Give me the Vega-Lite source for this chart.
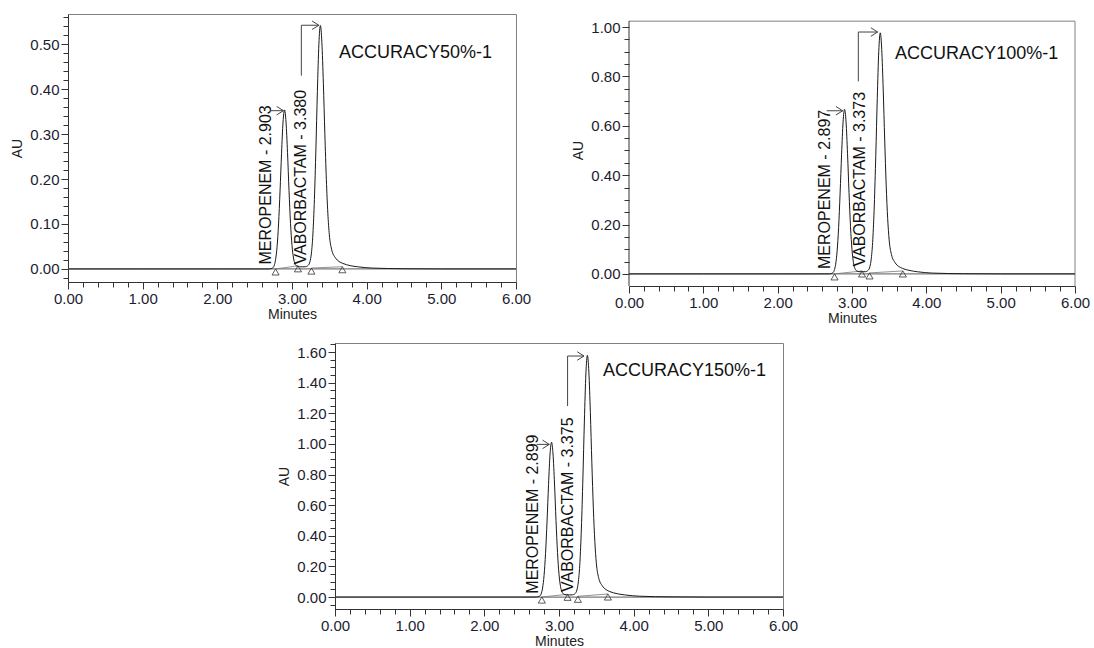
{
  "$schema": "https://vega.github.io/schema/vega-lite/v6.json",
  "padding": {"left": 10, "top": 9, "right": 0, "bottom": 0},
  "background": "white",
  "config": {
    "font": "Liberation Sans",
    "view": {"stroke": "#808080", "strokeWidth": 1},
    "axis": {
      "labelFontSize": 15, "titleFontSize": 14, "titleFontWeight": "normal",
      "labelColor": "#1c1c30", "titleColor": "#222", "domainColor": "#333", "tickColor": "#333",
      "labelFont": "Liberation Sans", "titleFont": "Liberation Sans", "grid": false,
      "labelFlush": false, "labelOverlap": false, "labelPadding": 2, "tickWidth": 1, "domainWidth": 1
    },
    "axisY": {"titlePadding": 5},
    "axisX": {"titlePadding": 1}
  },
  "datasets": {
    "p1": [
      {"k":"zero","t":0,"au":0},{"k":"zero","t":6,"au":0},
      {"k":"trace","t":0,"au":0},{"k":"trace","t":1,"au":0},{"k":"trace","t":2,"au":0},{"k":"trace","t":2.5,"au":0},
      {"k":"trace","t":2.7,"au":0.0001},{"k":"trace","t":2.74,"au":0.0021},{"k":"trace","t":2.76,"au":0.0069},{"k":"trace","t":2.78,"au":0.0207},
      {"k":"trace","t":2.8,"au":0.0494},{"k":"trace","t":2.82,"au":0.1},{"k":"trace","t":2.84,"au":0.1737},{"k":"trace","t":2.86,"au":0.2573},
      {"k":"trace","t":2.88,"au":0.3268},{"k":"trace","t":2.9,"au":0.3537},{"k":"trace","t":2.92,"au":0.3268},{"k":"trace","t":2.94,"au":0.2584},
      {"k":"trace","t":2.96,"au":0.1748},{"k":"trace","t":2.98,"au":0.1016},{"k":"trace","t":3.0,"au":0.0521},{"k":"trace","t":3.02,"au":0.0244},
      {"k":"trace","t":3.04,"au":0.0117},{"k":"trace","t":3.06,"au":0.0069},{"k":"trace","t":3.1,"au":0.0049},{"k":"trace","t":3.14,"au":0.0048},
      {"k":"trace","t":3.18,"au":0.005},{"k":"trace","t":3.22,"au":0.0086},{"k":"trace","t":3.24,"au":0.016},{"k":"trace","t":3.26,"au":0.0354},
      {"k":"trace","t":3.28,"au":0.0776},{"k":"trace","t":3.3,"au":0.1546},{"k":"trace","t":3.32,"au":0.2664},{"k":"trace","t":3.34,"au":0.3943},
      {"k":"trace","t":3.36,"au":0.4997},{"k":"trace","t":3.38,"au":0.5414},{"k":"trace","t":3.4,"au":0.504},{"k":"trace","t":3.42,"au":0.413},
      {"k":"trace","t":3.44,"au":0.3007},{"k":"trace","t":3.46,"au":0.199},{"k":"trace","t":3.48,"au":0.1241},{"k":"trace","t":3.5,"au":0.076},
      {"k":"trace","t":3.53,"au":0.0439},{"k":"trace","t":3.58,"au":0.0251},{"k":"trace","t":3.63,"au":0.0166},{"k":"trace","t":3.68,"au":0.0124},
      {"k":"trace","t":3.78,"au":0.0074},{"k":"trace","t":3.88,"au":0.0048},{"k":"trace","t":4.08,"au":0.0019},{"k":"trace","t":4.5,"au":0.0005},
      {"k":"trace","t":5,"au":0},{"k":"trace","t":6,"au":0},
      {"k":"base","g":"a","t":2.78,"au":0},{"k":"base","g":"a","t":3.08,"au":0.007},
      {"k":"base","g":"b","t":3.26,"au":0.002},{"k":"base","g":"b","t":3.675,"au":0.005},
      {"k":"tri","t":2.78,"au":0},{"k":"tri","t":3.08,"au":0.007},{"k":"tri","t":3.26,"au":0.002},{"k":"tri","t":3.675,"au":0.005},
      {"k":"lead","g":"m","o":1,"t":2.72,"au":0.352},{"k":"lead","g":"m","o":2,"t":2.885,"au":0.352},
      {"k":"lead","g":"v","o":1,"t":3.125,"au":0.43},{"k":"lead","g":"v","o":2,"t":3.125,"au":0.542},{"k":"lead","g":"v","o":3,"t":3.36,"au":0.542},
      {"k":"head","t":2.885,"au":0.352},{"k":"head","t":3.36,"au":0.542},
      {"k":"rot","t":2.65,"au":0.01,"label":"MEROPENEM - 2.903"},
      {"k":"rot","t":3.125,"au":0.01,"label":"VABORBACTAM - 3.380"},
      {"k":"name","t":3.63,"au":0.48,"label":"ACCURACY50%-1"}
    ],
    "p2": [
      {"k":"zero","t":0,"au":0},{"k":"zero","t":6,"au":0},
      {"k":"trace","t":0,"au":0},{"k":"trace","t":1,"au":0},{"k":"trace","t":2,"au":0},{"k":"trace","t":2.5,"au":0},
      {"k":"trace","t":2.7,"au":0.0002},{"k":"trace","t":2.74,"au":0.004},{"k":"trace","t":2.76,"au":0.0131},{"k":"trace","t":2.78,"au":0.0389},
      {"k":"trace","t":2.8,"au":0.093},{"k":"trace","t":2.82,"au":0.1883},{"k":"trace","t":2.84,"au":0.3272},{"k":"trace","t":2.86,"au":0.485},
      {"k":"trace","t":2.88,"au":0.616},{"k":"trace","t":2.9,"au":0.6668},{"k":"trace","t":2.92,"au":0.616},{"k":"trace","t":2.94,"au":0.4869},
      {"k":"trace","t":2.96,"au":0.3291},{"k":"trace","t":2.98,"au":0.1912},{"k":"trace","t":3.0,"au":0.0978},{"k":"trace","t":3.02,"au":0.0457},
      {"k":"trace","t":3.04,"au":0.0218},{"k":"trace","t":3.06,"au":0.0127},{"k":"trace","t":3.1,"au":0.0089},{"k":"trace","t":3.14,"au":0.0087},
      {"k":"trace","t":3.18,"au":0.009},{"k":"trace","t":3.22,"au":0.0155},{"k":"trace","t":3.24,"au":0.0288},{"k":"trace","t":3.26,"au":0.0637},
      {"k":"trace","t":3.28,"au":0.14},{"k":"trace","t":3.3,"au":0.2789},{"k":"trace","t":3.32,"au":0.4806},{"k":"trace","t":3.34,"au":0.7112},
      {"k":"trace","t":3.36,"au":0.9013},{"k":"trace","t":3.38,"au":0.9766},{"k":"trace","t":3.4,"au":0.9091},{"k":"trace","t":3.42,"au":0.745},
      {"k":"trace","t":3.44,"au":0.5424},{"k":"trace","t":3.46,"au":0.359},{"k":"trace","t":3.48,"au":0.2239},{"k":"trace","t":3.5,"au":0.1371},
      {"k":"trace","t":3.53,"au":0.0792},{"k":"trace","t":3.58,"au":0.0454},{"k":"trace","t":3.63,"au":0.0299},{"k":"trace","t":3.68,"au":0.0222},
      {"k":"trace","t":3.78,"au":0.0136},{"k":"trace","t":3.88,"au":0.0087},{"k":"trace","t":4.08,"au":0.0033},{"k":"trace","t":4.5,"au":0.0008},
      {"k":"trace","t":5,"au":0},{"k":"trace","t":6,"au":0},
      {"k":"base","g":"a","t":2.765,"au":0},{"k":"base","g":"a","t":3.135,"au":0.012},
      {"k":"base","g":"b","t":3.236,"au":0.004},{"k":"base","g":"b","t":3.684,"au":0.012},
      {"k":"tri","t":2.765,"au":0},{"k":"tri","t":3.135,"au":0.012},{"k":"tri","t":3.236,"au":0.004},{"k":"tri","t":3.684,"au":0.012},
      {"k":"lead","g":"m","o":1,"t":2.66,"au":0.661},{"k":"lead","g":"m","o":2,"t":2.875,"au":0.661},
      {"k":"lead","g":"v","o":1,"t":3.085,"au":0.78},{"k":"lead","g":"v","o":2,"t":3.085,"au":0.98},{"k":"lead","g":"v","o":3,"t":3.345,"au":0.98},
      {"k":"head","t":2.875,"au":0.661},{"k":"head","t":3.345,"au":0.98},
      {"k":"rot","t":2.64,"au":0.02,"label":"MEROPENEM - 2.897"},
      {"k":"rot","t":3.11,"au":0.03,"label":"VABORBACTAM - 3.373"},
      {"k":"name","t":3.58,"au":0.89,"label":"ACCURACY100%-1"}
    ],
    "p3": [
      {"k":"zero","t":0,"au":0},{"k":"zero","t":6,"au":0},
      {"k":"trace","t":0,"au":0},{"k":"trace","t":1,"au":0},{"k":"trace","t":2,"au":0},{"k":"trace","t":2.5,"au":0},
      {"k":"trace","t":2.7,"au":0.0003},{"k":"trace","t":2.74,"au":0.006},{"k":"trace","t":2.76,"au":0.0198},{"k":"trace","t":2.78,"au":0.0591},
      {"k":"trace","t":2.8,"au":0.1412},{"k":"trace","t":2.82,"au":0.2858},{"k":"trace","t":2.84,"au":0.4964},{"k":"trace","t":2.86,"au":0.7354},
      {"k":"trace","t":2.88,"au":0.9339},{"k":"trace","t":2.9,"au":1.0109},{"k":"trace","t":2.92,"au":0.9339},{"k":"trace","t":2.94,"au":0.7385},
      {"k":"trace","t":2.96,"au":0.4995},{"k":"trace","t":2.98,"au":0.2905},{"k":"trace","t":3.0,"au":0.149},{"k":"trace","t":3.02,"au":0.07},
      {"k":"trace","t":3.04,"au":0.0338},{"k":"trace","t":3.06,"au":0.02},{"k":"trace","t":3.1,"au":0.0143},{"k":"trace","t":3.14,"au":0.014},
      {"k":"trace","t":3.18,"au":0.0145},{"k":"trace","t":3.22,"au":0.025},{"k":"trace","t":3.24,"au":0.0465},{"k":"trace","t":3.26,"au":0.103},
      {"k":"trace","t":3.28,"au":0.2262},{"k":"trace","t":3.3,"au":0.4509},{"k":"trace","t":3.32,"au":0.7769},{"k":"trace","t":3.34,"au":1.1498},
      {"k":"trace","t":3.36,"au":1.4571},{"k":"trace","t":3.38,"au":1.5787},{"k":"trace","t":3.4,"au":1.4695},{"k":"trace","t":3.42,"au":1.2043},
      {"k":"trace","t":3.44,"au":0.8767},{"k":"trace","t":3.46,"au":0.5803},{"k":"trace","t":3.48,"au":0.3619},{"k":"trace","t":3.5,"au":0.2215},
      {"k":"trace","t":3.53,"au":0.1279},{"k":"trace","t":3.58,"au":0.0733},{"k":"trace","t":3.63,"au":0.0484},{"k":"trace","t":3.68,"au":0.0359},
      {"k":"trace","t":3.78,"au":0.0218},{"k":"trace","t":3.88,"au":0.014},{"k":"trace","t":4.08,"au":0.0054},{"k":"trace","t":4.5,"au":0.0013},
      {"k":"trace","t":5,"au":0},{"k":"trace","t":6,"au":0},
      {"k":"base","g":"a","t":2.77,"au":0},{"k":"base","g":"a","t":3.115,"au":0.018},
      {"k":"base","g":"b","t":3.253,"au":0.005},{"k":"base","g":"b","t":3.655,"au":0.02},
      {"k":"tri","t":2.77,"au":0},{"k":"tri","t":3.115,"au":0.018},{"k":"tri","t":3.253,"au":0.005},{"k":"tri","t":3.655,"au":0.02},
      {"k":"lead","g":"m","o":1,"t":2.7,"au":0.997},{"k":"lead","g":"m","o":2,"t":2.87,"au":0.997},
      {"k":"lead","g":"v","o":1,"t":3.115,"au":1.247},{"k":"lead","g":"v","o":2,"t":3.115,"au":1.574},{"k":"lead","g":"v","o":3,"t":3.335,"au":1.574},
      {"k":"head","t":2.87,"au":0.997},{"k":"head","t":3.335,"au":1.574},
      {"k":"rot","t":2.65,"au":0.022,"label":"MEROPENEM - 2.899"},
      {"k":"rot","t":3.115,"au":0.033,"label":"VABORBACTAM - 3.375"},
      {"k":"name","t":3.59,"au":1.474,"label":"ACCURACY150%-1"}
    ]
  },
  "spacing": 11,
  "vconcat": [
    {
      "spacing": 39,
      "hconcat": [
        {
          "width": 448, "height": 268,
          "data": {"name": "p1"},
          "encoding": {
            "x": {"field": "t", "type": "quantitative", "scale": {"domain": [0, 6], "nice": false, "zero": false},
              "axis": {"title": "Minutes", "values": [0,0.2,0.4,0.6,0.8,1,1.2,1.4,1.6,1.8,2,2.2,2.4,2.6,2.8,3,3.2,3.4,3.6,3.8,4,4.2,4.4,4.6,4.8,5,5.2,5.4,5.6,5.8,6],
                "labelExpr": "round(datum.value*10) % 10 === 0 ? format(datum.value, '.2f') : ''",
                "tickSize": {"condition": {"test": "round(datum.value*10) % 10 === 0", "value": 7}, "value": 5}}},
            "y": {"field": "au", "type": "quantitative", "scale": {"domain": [-0.029, 0.567], "nice": false, "zero": false},
              "axis": {"title": "AU", "values": [-0.02,0,0.02,0.04,0.06,0.08,0.1,0.12,0.14,0.16,0.18,0.2,0.22,0.24,0.26,0.28,0.3,0.32,0.34,0.36,0.38,0.4,0.42,0.44,0.46,0.48,0.5,0.52,0.54,0.56],
                "labelExpr": "round(datum.value*100) % 10 === 0 ? format(datum.value, '.2f') : ''",
                "tickSize": {"condition": {"test": "round(datum.value*100) % 10 === 0", "value": 7}, "value": 5}}}
          },
          "layer": [
            {"transform": [{"filter": "datum.k === 'zero'"}], "mark": {"type": "line", "color": "#7a7a7a", "strokeWidth": 1.3}},
            {"transform": [{"filter": "datum.k === 'base'"}], "mark": {"type": "line", "color": "#777", "strokeWidth": 0.8}, "encoding": {"detail": {"field": "g", "type": "nominal"}}},
            {"transform": [{"filter": "datum.k === 'trace'"}], "mark": {"type": "line", "color": "#1a1a1a", "strokeWidth": 1, "interpolate": "monotone"}},
            {"transform": [{"filter": "datum.k === 'tri'"}], "mark": {"type": "point", "shape": "triangle-up", "filled": false, "size": 50, "color": "#333", "strokeWidth": 0.8, "yOffset": 3, "opacity": 1}},
            {"transform": [{"filter": "datum.k === 'lead'"}], "mark": {"type": "line", "color": "#444", "strokeWidth": 1}, "encoding": {"detail": {"field": "g", "type": "nominal"}, "order": {"field": "o", "type": "quantitative"}}},
            {"transform": [{"filter": "datum.k === 'head'"}], "mark": {"type": "point", "shape": "M-1.6,-1L0,0L-1.6,1", "filled": false, "size": 72, "color": "#444", "strokeWidth": 1, "opacity": 1}},
            {"transform": [{"filter": "datum.k === 'rot'"}], "mark": {"type": "text", "angle": 270, "align": "left", "baseline": "middle", "fontSize": 16, "color": "#111"}, "encoding": {"text": {"field": "label"}}},
            {"transform": [{"filter": "datum.k === 'name'"}], "mark": {"type": "text", "align": "left", "baseline": "middle", "fontSize": 18, "color": "#111"}, "encoding": {"text": {"field": "label"}}}
          ]
        },
        {
          "width": 446, "height": 272,
          "view": {"stroke": null},
          "data": {"name": "p2"},
          "encoding": {
            "x": {"field": "t", "type": "quantitative", "scale": {"domain": [0, 6], "nice": false, "zero": false},
              "axis": {"title": "Minutes", "values": [0,0.2,0.4,0.6,0.8,1,1.2,1.4,1.6,1.8,2,2.2,2.4,2.6,2.8,3,3.2,3.4,3.6,3.8,4,4.2,4.4,4.6,4.8,5,5.2,5.4,5.6,5.8,6],
                "labelExpr": "round(datum.value*10) % 10 === 0 ? format(datum.value, '.2f') : ''",
                "tickSize": {"condition": {"test": "round(datum.value*10) % 10 === 0", "value": 7}, "value": 5}}},
            "y": {"field": "au", "type": "quantitative", "scale": {"domain": [-0.049, 1.053], "nice": false, "zero": false},
              "axis": {"title": "AU", "domain": false, "values": [0,0.05,0.1,0.15,0.2,0.25,0.3,0.35,0.4,0.45,0.5,0.55,0.6,0.65,0.7,0.75,0.8,0.85,0.9,0.95,1],
                "labelExpr": "round(datum.value*100) % 20 === 0 ? format(datum.value, '.2f') : ''",
                "tickSize": {"condition": {"test": "round(datum.value*100) % 20 === 0", "value": 7}, "value": 5}}}
          },
          "layer": [
            {"transform": [{"filter": "datum.k === 'name'"}], "mark": {"type": "rule", "color": "#808080", "strokeWidth": 1}, "encoding": {"x": {"datum": 0}, "x2": {"datum": 6}, "y": {"datum": 1.024}}},
            {"transform": [{"filter": "datum.k === 'name'"}], "mark": {"type": "rule", "color": "#808080", "strokeWidth": 1}, "encoding": {"x": {"datum": 6}, "y": {"datum": -0.049}, "y2": {"datum": 1.024}}},
            {"transform": [{"filter": "datum.k === 'name'"}], "mark": {"type": "rule", "color": "#333", "strokeWidth": 1}, "encoding": {"x": {"datum": 0}, "y": {"datum": -0.049}, "y2": {"datum": 1.024}}},
            {"transform": [{"filter": "datum.k === 'zero'"}], "mark": {"type": "line", "color": "#7a7a7a", "strokeWidth": 1.3}},
            {"transform": [{"filter": "datum.k === 'base'"}], "mark": {"type": "line", "color": "#777", "strokeWidth": 0.8}, "encoding": {"detail": {"field": "g", "type": "nominal"}}},
            {"transform": [{"filter": "datum.k === 'trace'"}], "mark": {"type": "line", "color": "#1a1a1a", "strokeWidth": 1, "interpolate": "monotone"}},
            {"transform": [{"filter": "datum.k === 'tri'"}], "mark": {"type": "point", "shape": "triangle-up", "filled": false, "size": 50, "color": "#333", "strokeWidth": 0.8, "yOffset": 3, "opacity": 1}},
            {"transform": [{"filter": "datum.k === 'lead'"}], "mark": {"type": "line", "color": "#444", "strokeWidth": 1}, "encoding": {"detail": {"field": "g", "type": "nominal"}, "order": {"field": "o", "type": "quantitative"}}},
            {"transform": [{"filter": "datum.k === 'head'"}], "mark": {"type": "point", "shape": "M-1.6,-1L0,0L-1.6,1", "filled": false, "size": 72, "color": "#444", "strokeWidth": 1, "opacity": 1}},
            {"transform": [{"filter": "datum.k === 'rot'"}], "mark": {"type": "text", "angle": 270, "align": "left", "baseline": "middle", "fontSize": 16, "color": "#111"}, "encoding": {"text": {"field": "label"}}},
            {"transform": [{"filter": "datum.k === 'name'"}], "mark": {"type": "text", "align": "left", "baseline": "middle", "fontSize": 18, "color": "#111"}, "encoding": {"text": {"field": "label"}}}
          ]
        }
      ]
    },
    {
      "spacing": 0,
      "hconcat": [
        {"width": 209, "height": 10, "data": {"values": []}, "mark": {"type": "point"}, "encoding": {}, "view": {"stroke": null}},
        {
          "width": 448, "height": 266,
          "data": {"name": "p3"},
          "encoding": {
            "x": {"field": "t", "type": "quantitative", "scale": {"domain": [0, 6], "nice": false, "zero": false},
              "axis": {"title": "Minutes", "values": [0,0.2,0.4,0.6,0.8,1,1.2,1.4,1.6,1.8,2,2.2,2.4,2.6,2.8,3,3.2,3.4,3.6,3.8,4,4.2,4.4,4.6,4.8,5,5.2,5.4,5.6,5.8,6],
                "labelExpr": "round(datum.value*10) % 10 === 0 ? format(datum.value, '.2f') : ''",
                "tickSize": {"condition": {"test": "round(datum.value*10) % 10 === 0", "value": 7}, "value": 5}}},
            "y": {"field": "au", "type": "quantitative", "scale": {"domain": [-0.078, 1.659], "nice": false, "zero": false},
              "axis": {"title": "AU", "values": [-0.05,0,0.05,0.1,0.15,0.2,0.25,0.3,0.35,0.4,0.45,0.5,0.55,0.6,0.65,0.7,0.75,0.8,0.85,0.9,0.95,1,1.05,1.1,1.15,1.2,1.25,1.3,1.35,1.4,1.45,1.5,1.55,1.6,1.65],
                "labelExpr": "round(datum.value*100) % 20 === 0 ? format(datum.value, '.2f') : ''",
                "tickSize": {"condition": {"test": "round(datum.value*100) % 20 === 0", "value": 7}, "value": 5}}}
          },
          "layer": [
            {"transform": [{"filter": "datum.k === 'zero'"}], "mark": {"type": "line", "color": "#7a7a7a", "strokeWidth": 1.3}},
            {"transform": [{"filter": "datum.k === 'base'"}], "mark": {"type": "line", "color": "#777", "strokeWidth": 0.8}, "encoding": {"detail": {"field": "g", "type": "nominal"}}},
            {"transform": [{"filter": "datum.k === 'trace'"}], "mark": {"type": "line", "color": "#1a1a1a", "strokeWidth": 1, "interpolate": "monotone"}},
            {"transform": [{"filter": "datum.k === 'tri'"}], "mark": {"type": "point", "shape": "triangle-up", "filled": false, "size": 50, "color": "#333", "strokeWidth": 0.8, "yOffset": 3, "opacity": 1}},
            {"transform": [{"filter": "datum.k === 'lead'"}], "mark": {"type": "line", "color": "#444", "strokeWidth": 1}, "encoding": {"detail": {"field": "g", "type": "nominal"}, "order": {"field": "o", "type": "quantitative"}}},
            {"transform": [{"filter": "datum.k === 'head'"}], "mark": {"type": "point", "shape": "M-1.6,-1L0,0L-1.6,1", "filled": false, "size": 72, "color": "#444", "strokeWidth": 1, "opacity": 1}},
            {"transform": [{"filter": "datum.k === 'rot'"}], "mark": {"type": "text", "angle": 270, "align": "left", "baseline": "middle", "fontSize": 16, "color": "#111"}, "encoding": {"text": {"field": "label"}}},
            {"transform": [{"filter": "datum.k === 'name'"}], "mark": {"type": "text", "align": "left", "baseline": "middle", "fontSize": 18, "color": "#111"}, "encoding": {"text": {"field": "label"}}}
          ]
        }
      ]
    }
  ]
}
